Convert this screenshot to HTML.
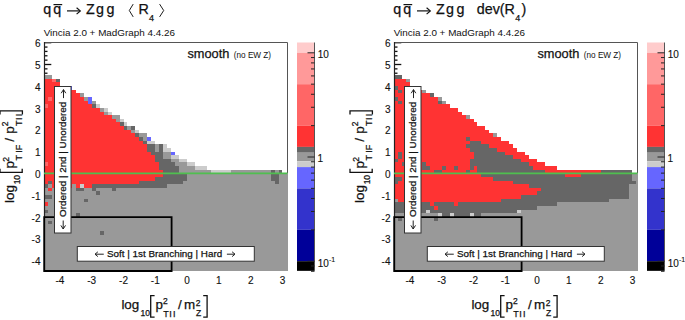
<!DOCTYPE html>
<html><head><meta charset="utf-8"><title>Vincia R4</title><style>
html,body{margin:0;padding:0;background:#fff;width:685px;height:320px;overflow:hidden}
svg{display:block}
text{font-family:"Liberation Sans",sans-serif;fill:#111;stroke:#111;stroke-width:0.25px}
.tl{font-size:10px;stroke-width:0.12px}
.sup{font-size:7px}
.tt{font-size:14.3px}
.sub{font-size:9px}
.st{font-size:9.9px;stroke-width:0}
.sm{font-size:12.8px}
.sm2{font-size:8.2px;stroke-width:0}
.lb{font-size:9.85px}
.at{font-size:13.4px}
.atsub{font-size:8.5px}
.atsub2{font-size:9px}
.br{font-size:19px;font-weight:normal}
</style></head><body>
<svg width="685" height="320" viewBox="0 0 685 320">
<style>.cells rect{shape-rendering:crispEdges}</style>
<rect x="0" y="0" width="685" height="320" fill="#fff"/>
<line x1="44.0" y1="42.70" x2="51.3" y2="42.70" stroke="#111" stroke-width="1.3"/>
<line x1="44.0" y1="47.06" x2="47.5" y2="47.06" stroke="#111" stroke-width="1.3"/>
<line x1="44.0" y1="51.42" x2="47.5" y2="51.42" stroke="#111" stroke-width="1.3"/>
<line x1="44.0" y1="55.78" x2="47.5" y2="55.78" stroke="#111" stroke-width="1.3"/>
<line x1="44.0" y1="60.14" x2="47.5" y2="60.14" stroke="#111" stroke-width="1.3"/>
<line x1="44.0" y1="64.50" x2="51.3" y2="64.50" stroke="#111" stroke-width="1.3"/>
<line x1="44.0" y1="68.86" x2="47.5" y2="68.86" stroke="#111" stroke-width="1.3"/>
<line x1="44.0" y1="73.22" x2="47.5" y2="73.22" stroke="#111" stroke-width="1.3"/>
<line x1="44.0" y1="77.58" x2="47.5" y2="77.58" stroke="#111" stroke-width="1.3"/>
<line x1="44.0" y1="81.94" x2="47.5" y2="81.94" stroke="#111" stroke-width="1.3"/>
<line x1="44.0" y1="86.30" x2="51.3" y2="86.30" stroke="#111" stroke-width="1.3"/>
<line x1="44.0" y1="90.66" x2="47.5" y2="90.66" stroke="#111" stroke-width="1.3"/>
<line x1="44.0" y1="95.02" x2="47.5" y2="95.02" stroke="#111" stroke-width="1.3"/>
<line x1="44.0" y1="99.38" x2="47.5" y2="99.38" stroke="#111" stroke-width="1.3"/>
<line x1="44.0" y1="103.74" x2="47.5" y2="103.74" stroke="#111" stroke-width="1.3"/>
<line x1="44.0" y1="108.10" x2="51.3" y2="108.10" stroke="#111" stroke-width="1.3"/>
<line x1="44.0" y1="112.46" x2="47.5" y2="112.46" stroke="#111" stroke-width="1.3"/>
<line x1="44.0" y1="116.82" x2="47.5" y2="116.82" stroke="#111" stroke-width="1.3"/>
<line x1="44.0" y1="121.18" x2="47.5" y2="121.18" stroke="#111" stroke-width="1.3"/>
<line x1="44.0" y1="125.54" x2="47.5" y2="125.54" stroke="#111" stroke-width="1.3"/>
<line x1="44.0" y1="129.90" x2="51.3" y2="129.90" stroke="#111" stroke-width="1.3"/>
<line x1="44.0" y1="134.26" x2="47.5" y2="134.26" stroke="#111" stroke-width="1.3"/>
<line x1="44.0" y1="138.62" x2="47.5" y2="138.62" stroke="#111" stroke-width="1.3"/>
<line x1="44.0" y1="142.98" x2="47.5" y2="142.98" stroke="#111" stroke-width="1.3"/>
<line x1="44.0" y1="147.34" x2="47.5" y2="147.34" stroke="#111" stroke-width="1.3"/>
<line x1="44.0" y1="151.70" x2="51.3" y2="151.70" stroke="#111" stroke-width="1.3"/>
<line x1="44.0" y1="156.06" x2="47.5" y2="156.06" stroke="#111" stroke-width="1.3"/>
<line x1="44.0" y1="160.42" x2="47.5" y2="160.42" stroke="#111" stroke-width="1.3"/>
<line x1="44.0" y1="164.78" x2="47.5" y2="164.78" stroke="#111" stroke-width="1.3"/>
<line x1="44.0" y1="169.14" x2="47.5" y2="169.14" stroke="#111" stroke-width="1.3"/>
<line x1="44.0" y1="173.50" x2="51.3" y2="173.50" stroke="#111" stroke-width="1.3"/>
<line x1="44.0" y1="177.86" x2="47.5" y2="177.86" stroke="#111" stroke-width="1.3"/>
<line x1="44.0" y1="182.22" x2="47.5" y2="182.22" stroke="#111" stroke-width="1.3"/>
<line x1="44.0" y1="186.58" x2="47.5" y2="186.58" stroke="#111" stroke-width="1.3"/>
<line x1="44.0" y1="190.94" x2="47.5" y2="190.94" stroke="#111" stroke-width="1.3"/>
<line x1="44.0" y1="195.30" x2="51.3" y2="195.30" stroke="#111" stroke-width="1.3"/>
<line x1="44.0" y1="199.66" x2="47.5" y2="199.66" stroke="#111" stroke-width="1.3"/>
<line x1="44.0" y1="204.02" x2="47.5" y2="204.02" stroke="#111" stroke-width="1.3"/>
<line x1="44.0" y1="208.38" x2="47.5" y2="208.38" stroke="#111" stroke-width="1.3"/>
<line x1="44.0" y1="212.74" x2="47.5" y2="212.74" stroke="#111" stroke-width="1.3"/>
<line x1="44.0" y1="217.10" x2="51.3" y2="217.10" stroke="#111" stroke-width="1.3"/>
<line x1="44.0" y1="221.46" x2="47.5" y2="221.46" stroke="#111" stroke-width="1.3"/>
<line x1="44.0" y1="225.82" x2="47.5" y2="225.82" stroke="#111" stroke-width="1.3"/>
<line x1="44.0" y1="230.18" x2="47.5" y2="230.18" stroke="#111" stroke-width="1.3"/>
<line x1="44.0" y1="234.54" x2="47.5" y2="234.54" stroke="#111" stroke-width="1.3"/>
<line x1="44.0" y1="238.90" x2="51.3" y2="238.90" stroke="#111" stroke-width="1.3"/>
<line x1="44.0" y1="243.26" x2="47.5" y2="243.26" stroke="#111" stroke-width="1.3"/>
<line x1="44.0" y1="247.62" x2="47.5" y2="247.62" stroke="#111" stroke-width="1.3"/>
<line x1="44.0" y1="251.98" x2="47.5" y2="251.98" stroke="#111" stroke-width="1.3"/>
<line x1="44.0" y1="256.34" x2="47.5" y2="256.34" stroke="#111" stroke-width="1.3"/>
<line x1="44.0" y1="260.70" x2="51.3" y2="260.70" stroke="#111" stroke-width="1.3"/>
<line x1="44.0" y1="265.06" x2="47.5" y2="265.06" stroke="#111" stroke-width="1.3"/>
<line x1="44.0" y1="269.42" x2="47.5" y2="269.42" stroke="#111" stroke-width="1.3"/>
<line x1="394.0" y1="42.70" x2="401.3" y2="42.70" stroke="#111" stroke-width="1.3"/>
<line x1="394.0" y1="47.06" x2="397.5" y2="47.06" stroke="#111" stroke-width="1.3"/>
<line x1="394.0" y1="51.42" x2="397.5" y2="51.42" stroke="#111" stroke-width="1.3"/>
<line x1="394.0" y1="55.78" x2="397.5" y2="55.78" stroke="#111" stroke-width="1.3"/>
<line x1="394.0" y1="60.14" x2="397.5" y2="60.14" stroke="#111" stroke-width="1.3"/>
<line x1="394.0" y1="64.50" x2="401.3" y2="64.50" stroke="#111" stroke-width="1.3"/>
<line x1="394.0" y1="68.86" x2="397.5" y2="68.86" stroke="#111" stroke-width="1.3"/>
<line x1="394.0" y1="73.22" x2="397.5" y2="73.22" stroke="#111" stroke-width="1.3"/>
<line x1="394.0" y1="77.58" x2="397.5" y2="77.58" stroke="#111" stroke-width="1.3"/>
<line x1="394.0" y1="81.94" x2="397.5" y2="81.94" stroke="#111" stroke-width="1.3"/>
<line x1="394.0" y1="86.30" x2="401.3" y2="86.30" stroke="#111" stroke-width="1.3"/>
<line x1="394.0" y1="90.66" x2="397.5" y2="90.66" stroke="#111" stroke-width="1.3"/>
<line x1="394.0" y1="95.02" x2="397.5" y2="95.02" stroke="#111" stroke-width="1.3"/>
<line x1="394.0" y1="99.38" x2="397.5" y2="99.38" stroke="#111" stroke-width="1.3"/>
<line x1="394.0" y1="103.74" x2="397.5" y2="103.74" stroke="#111" stroke-width="1.3"/>
<line x1="394.0" y1="108.10" x2="401.3" y2="108.10" stroke="#111" stroke-width="1.3"/>
<line x1="394.0" y1="112.46" x2="397.5" y2="112.46" stroke="#111" stroke-width="1.3"/>
<line x1="394.0" y1="116.82" x2="397.5" y2="116.82" stroke="#111" stroke-width="1.3"/>
<line x1="394.0" y1="121.18" x2="397.5" y2="121.18" stroke="#111" stroke-width="1.3"/>
<line x1="394.0" y1="125.54" x2="397.5" y2="125.54" stroke="#111" stroke-width="1.3"/>
<line x1="394.0" y1="129.90" x2="401.3" y2="129.90" stroke="#111" stroke-width="1.3"/>
<line x1="394.0" y1="134.26" x2="397.5" y2="134.26" stroke="#111" stroke-width="1.3"/>
<line x1="394.0" y1="138.62" x2="397.5" y2="138.62" stroke="#111" stroke-width="1.3"/>
<line x1="394.0" y1="142.98" x2="397.5" y2="142.98" stroke="#111" stroke-width="1.3"/>
<line x1="394.0" y1="147.34" x2="397.5" y2="147.34" stroke="#111" stroke-width="1.3"/>
<line x1="394.0" y1="151.70" x2="401.3" y2="151.70" stroke="#111" stroke-width="1.3"/>
<line x1="394.0" y1="156.06" x2="397.5" y2="156.06" stroke="#111" stroke-width="1.3"/>
<line x1="394.0" y1="160.42" x2="397.5" y2="160.42" stroke="#111" stroke-width="1.3"/>
<line x1="394.0" y1="164.78" x2="397.5" y2="164.78" stroke="#111" stroke-width="1.3"/>
<line x1="394.0" y1="169.14" x2="397.5" y2="169.14" stroke="#111" stroke-width="1.3"/>
<line x1="394.0" y1="173.50" x2="401.3" y2="173.50" stroke="#111" stroke-width="1.3"/>
<line x1="394.0" y1="177.86" x2="397.5" y2="177.86" stroke="#111" stroke-width="1.3"/>
<line x1="394.0" y1="182.22" x2="397.5" y2="182.22" stroke="#111" stroke-width="1.3"/>
<line x1="394.0" y1="186.58" x2="397.5" y2="186.58" stroke="#111" stroke-width="1.3"/>
<line x1="394.0" y1="190.94" x2="397.5" y2="190.94" stroke="#111" stroke-width="1.3"/>
<line x1="394.0" y1="195.30" x2="401.3" y2="195.30" stroke="#111" stroke-width="1.3"/>
<line x1="394.0" y1="199.66" x2="397.5" y2="199.66" stroke="#111" stroke-width="1.3"/>
<line x1="394.0" y1="204.02" x2="397.5" y2="204.02" stroke="#111" stroke-width="1.3"/>
<line x1="394.0" y1="208.38" x2="397.5" y2="208.38" stroke="#111" stroke-width="1.3"/>
<line x1="394.0" y1="212.74" x2="397.5" y2="212.74" stroke="#111" stroke-width="1.3"/>
<line x1="394.0" y1="217.10" x2="401.3" y2="217.10" stroke="#111" stroke-width="1.3"/>
<line x1="394.0" y1="221.46" x2="397.5" y2="221.46" stroke="#111" stroke-width="1.3"/>
<line x1="394.0" y1="225.82" x2="397.5" y2="225.82" stroke="#111" stroke-width="1.3"/>
<line x1="394.0" y1="230.18" x2="397.5" y2="230.18" stroke="#111" stroke-width="1.3"/>
<line x1="394.0" y1="234.54" x2="397.5" y2="234.54" stroke="#111" stroke-width="1.3"/>
<line x1="394.0" y1="238.90" x2="401.3" y2="238.90" stroke="#111" stroke-width="1.3"/>
<line x1="394.0" y1="243.26" x2="397.5" y2="243.26" stroke="#111" stroke-width="1.3"/>
<line x1="394.0" y1="247.62" x2="397.5" y2="247.62" stroke="#111" stroke-width="1.3"/>
<line x1="394.0" y1="251.98" x2="397.5" y2="251.98" stroke="#111" stroke-width="1.3"/>
<line x1="394.0" y1="256.34" x2="397.5" y2="256.34" stroke="#111" stroke-width="1.3"/>
<line x1="394.0" y1="260.70" x2="401.3" y2="260.70" stroke="#111" stroke-width="1.3"/>
<line x1="394.0" y1="265.06" x2="397.5" y2="265.06" stroke="#111" stroke-width="1.3"/>
<line x1="394.0" y1="269.42" x2="397.5" y2="269.42" stroke="#111" stroke-width="1.3"/>
<path d="M44.5,42.5 L287.5,42.5 L287.5,271" fill="none" stroke="#555" stroke-width="1"/>
<path d="M394.5,42.5 L637.5,42.5 L637.5,271" fill="none" stroke="#555" stroke-width="1"/>
<g class="cells"><rect x="44" y="75" width="8" height="4" fill="#999999"/>
<rect x="44" y="79" width="8" height="3" fill="#ff3333"/>
<rect x="52" y="79" width="4" height="3" fill="#ff6666"/>
<rect x="56" y="79" width="4" height="3" fill="#666666"/>
<rect x="44" y="82" width="16" height="4" fill="#ff3333"/>
<rect x="44" y="86" width="24" height="4" fill="#ff3333"/>
<rect x="68" y="86" width="4" height="4" fill="#6666ff"/>
<rect x="44" y="90" width="32" height="3" fill="#ff3333"/>
<rect x="44" y="93" width="36" height="4" fill="#ff3333"/>
<rect x="80" y="93" width="4" height="4" fill="#999999"/>
<rect x="44" y="97" width="4" height="4" fill="#ff3333"/>
<rect x="48" y="97" width="4" height="4" fill="#ff6666"/>
<rect x="52" y="97" width="32" height="4" fill="#ff3333"/>
<rect x="84" y="97" width="4" height="4" fill="#999999"/>
<rect x="88" y="97" width="4" height="4" fill="#6666ff"/>
<rect x="44" y="101" width="44" height="3" fill="#ff3333"/>
<rect x="88" y="101" width="4" height="3" fill="#6666ff"/>
<rect x="92" y="101" width="4" height="3" fill="#999999"/>
<rect x="44" y="104" width="4" height="4" fill="#ff6666"/>
<rect x="48" y="104" width="44" height="4" fill="#ff3333"/>
<rect x="92" y="104" width="4" height="4" fill="#666666"/>
<rect x="96" y="104" width="4" height="4" fill="#cccccc"/>
<rect x="44" y="108" width="56" height="4" fill="#ff3333"/>
<rect x="100" y="108" width="4" height="4" fill="#999999"/>
<rect x="104" y="108" width="4" height="4" fill="#cccccc"/>
<rect x="44" y="112" width="60" height="3" fill="#ff3333"/>
<rect x="104" y="112" width="4" height="3" fill="#999999"/>
<rect x="108" y="112" width="4" height="3" fill="#cccccc"/>
<rect x="44" y="115" width="68" height="4" fill="#ff3333"/>
<rect x="112" y="115" width="8" height="4" fill="#999999"/>
<rect x="44" y="119" width="72" height="3" fill="#ff3333"/>
<rect x="116" y="119" width="4" height="3" fill="#999999"/>
<rect x="120" y="119" width="4" height="3" fill="#cccccc"/>
<rect x="44" y="122" width="76" height="4" fill="#ff3333"/>
<rect x="120" y="122" width="4" height="4" fill="#666666"/>
<rect x="124" y="122" width="3" height="4" fill="#cccccc"/>
<rect x="44" y="126" width="80" height="4" fill="#ff3333"/>
<rect x="124" y="126" width="3" height="4" fill="#666666"/>
<rect x="127" y="126" width="4" height="4" fill="#999999"/>
<rect x="131" y="126" width="4" height="4" fill="#666666"/>
<rect x="44" y="130" width="87" height="3" fill="#ff3333"/>
<rect x="131" y="130" width="4" height="3" fill="#999999"/>
<rect x="135" y="130" width="4" height="3" fill="#cccccc"/>
<rect x="44" y="133" width="91" height="4" fill="#ff3333"/>
<rect x="135" y="133" width="4" height="4" fill="#666666"/>
<rect x="139" y="133" width="8" height="4" fill="#999999"/>
<rect x="44" y="137" width="95" height="4" fill="#ff3333"/>
<rect x="139" y="137" width="4" height="4" fill="#666666"/>
<rect x="143" y="137" width="4" height="4" fill="#999999"/>
<rect x="147" y="137" width="4" height="4" fill="#6666ff"/>
<rect x="44" y="141" width="99" height="3" fill="#ff3333"/>
<rect x="143" y="141" width="4" height="3" fill="#666666"/>
<rect x="147" y="141" width="8" height="3" fill="#cccccc"/>
<rect x="44" y="144" width="103" height="4" fill="#ff3333"/>
<rect x="147" y="144" width="8" height="4" fill="#666666"/>
<rect x="155" y="144" width="4" height="4" fill="#999999"/>
<rect x="159" y="144" width="4" height="4" fill="#666666"/>
<rect x="163" y="144" width="4" height="4" fill="#cccccc"/>
<rect x="44" y="148" width="103" height="4" fill="#ff3333"/>
<rect x="147" y="148" width="8" height="4" fill="#666666"/>
<rect x="155" y="148" width="4" height="4" fill="#999999"/>
<rect x="159" y="148" width="4" height="4" fill="#666666"/>
<rect x="163" y="148" width="8" height="4" fill="#cccccc"/>
<rect x="44" y="152" width="107" height="3" fill="#ff3333"/>
<rect x="151" y="152" width="12" height="3" fill="#666666"/>
<rect x="163" y="152" width="8" height="3" fill="#999999"/>
<rect x="171" y="152" width="4" height="3" fill="#6666ff"/>
<rect x="44" y="155" width="111" height="4" fill="#ff3333"/>
<rect x="155" y="155" width="8" height="4" fill="#666666"/>
<rect x="163" y="155" width="8" height="4" fill="#999999"/>
<rect x="171" y="155" width="8" height="4" fill="#cccccc"/>
<rect x="44" y="159" width="111" height="3" fill="#ff3333"/>
<rect x="155" y="159" width="16" height="3" fill="#666666"/>
<rect x="171" y="159" width="8" height="3" fill="#999999"/>
<rect x="179" y="159" width="8" height="3" fill="#cccccc"/>
<rect x="44" y="162" width="4" height="4" fill="#ff6666"/>
<rect x="48" y="162" width="111" height="4" fill="#ff3333"/>
<rect x="159" y="162" width="16" height="4" fill="#666666"/>
<rect x="175" y="162" width="12" height="4" fill="#999999"/>
<rect x="187" y="162" width="8" height="4" fill="#cccccc"/>
<rect x="44" y="166" width="115" height="4" fill="#ff3333"/>
<rect x="159" y="166" width="20" height="4" fill="#666666"/>
<rect x="179" y="166" width="16" height="4" fill="#999999"/>
<rect x="195" y="166" width="12" height="4" fill="#cccccc"/>
<rect x="44" y="170" width="119" height="3" fill="#ff3333"/>
<rect x="163" y="170" width="16" height="3" fill="#666666"/>
<rect x="179" y="170" width="32" height="3" fill="#999999"/>
<rect x="211" y="170" width="20" height="3" fill="#cccccc"/>
<rect x="231" y="170" width="40" height="3" fill="#999999"/>
<rect x="271" y="170" width="4" height="3" fill="#666666"/>
<rect x="275" y="170" width="4" height="3" fill="#999999"/>
<rect x="279" y="170" width="3" height="3" fill="#666666"/>
<rect x="44" y="173" width="119" height="4" fill="#ff3333"/>
<rect x="163" y="173" width="24" height="4" fill="#666666"/>
<rect x="187" y="173" width="84" height="4" fill="#999999"/>
<rect x="271" y="173" width="8" height="4" fill="#666666"/>
<rect x="279" y="173" width="9" height="4" fill="#999999"/>
<rect x="44" y="177" width="111" height="4" fill="#ff3333"/>
<rect x="155" y="177" width="32" height="4" fill="#666666"/>
<rect x="187" y="177" width="84" height="4" fill="#999999"/>
<rect x="271" y="177" width="8" height="4" fill="#666666"/>
<rect x="279" y="177" width="9" height="4" fill="#999999"/>
<rect x="44" y="181" width="4" height="3" fill="#ff3333"/>
<rect x="48" y="181" width="4" height="3" fill="#666666"/>
<rect x="52" y="181" width="87" height="3" fill="#ff3333"/>
<rect x="139" y="181" width="44" height="3" fill="#666666"/>
<rect x="183" y="181" width="92" height="3" fill="#999999"/>
<rect x="275" y="181" width="4" height="3" fill="#666666"/>
<rect x="279" y="181" width="9" height="3" fill="#999999"/>
<rect x="44" y="184" width="4" height="4" fill="#666666"/>
<rect x="48" y="184" width="4" height="4" fill="#999999"/>
<rect x="52" y="184" width="20" height="4" fill="#ff3333"/>
<rect x="72" y="184" width="4" height="4" fill="#999999"/>
<rect x="76" y="184" width="4" height="4" fill="#ff3333"/>
<rect x="80" y="184" width="4" height="4" fill="#cccccc"/>
<rect x="84" y="184" width="8" height="4" fill="#ff3333"/>
<rect x="92" y="184" width="75" height="4" fill="#666666"/>
<rect x="167" y="184" width="121" height="4" fill="#999999"/>
<rect x="44" y="188" width="4" height="3" fill="#999999"/>
<rect x="48" y="188" width="4" height="3" fill="#ff3333"/>
<rect x="52" y="188" width="24" height="3" fill="#999999"/>
<rect x="76" y="188" width="8" height="3" fill="#666666"/>
<rect x="84" y="188" width="8" height="3" fill="#999999"/>
<rect x="92" y="188" width="4" height="3" fill="#666666"/>
<rect x="96" y="188" width="16" height="3" fill="#999999"/>
<rect x="112" y="188" width="4" height="3" fill="#666666"/>
<rect x="116" y="188" width="172" height="3" fill="#999999"/>
<rect x="44" y="191" width="52" height="4" fill="#999999"/>
<rect x="96" y="191" width="4" height="4" fill="#666666"/>
<rect x="100" y="191" width="188" height="4" fill="#999999"/>
<rect x="44" y="195" width="8" height="4" fill="#666666"/>
<rect x="52" y="195" width="236" height="4" fill="#999999"/>
<rect x="44" y="199" width="40" height="3" fill="#999999"/>
<rect x="84" y="199" width="4" height="3" fill="#666666"/>
<rect x="88" y="199" width="200" height="3" fill="#999999"/>
<rect x="44" y="202" width="4" height="4" fill="#ff3333"/>
<rect x="48" y="202" width="240" height="4" fill="#999999"/>
<rect x="44" y="206" width="244" height="4" fill="#999999"/>
<rect x="44" y="210" width="4" height="3" fill="#666666"/>
<rect x="48" y="210" width="240" height="3" fill="#999999"/>
<rect x="44" y="213" width="32" height="4" fill="#999999"/>
<rect x="76" y="213" width="4" height="4" fill="#666666"/>
<rect x="80" y="213" width="208" height="4" fill="#999999"/>
<rect x="44" y="217" width="244" height="4" fill="#999999"/>
<rect x="44" y="221" width="4" height="3" fill="#999999"/>
<rect x="48" y="221" width="4" height="3" fill="#666666"/>
<rect x="52" y="221" width="236" height="3" fill="#999999"/>
<rect x="44" y="224" width="244" height="4" fill="#999999"/>
<rect x="44" y="228" width="244" height="3" fill="#999999"/>
<rect x="44" y="231" width="56" height="4" fill="#999999"/>
<rect x="100" y="231" width="4" height="4" fill="#666666"/>
<rect x="104" y="231" width="184" height="4" fill="#999999"/>
<rect x="44" y="235" width="244" height="4" fill="#999999"/>
<rect x="44" y="239" width="244" height="3" fill="#999999"/>
<rect x="44" y="242" width="244" height="4" fill="#999999"/>
<rect x="44" y="246" width="244" height="4" fill="#999999"/>
<rect x="44" y="250" width="244" height="3" fill="#999999"/>
<rect x="44" y="253" width="244" height="4" fill="#999999"/>
<rect x="44" y="257" width="244" height="3" fill="#999999"/>
<rect x="44" y="260" width="244" height="4" fill="#999999"/>
<rect x="44" y="264" width="244" height="4" fill="#999999"/>
<rect x="44" y="268" width="244" height="3" fill="#999999"/></g>
<g class="cells"><rect x="394" y="75" width="8" height="4" fill="#666666"/>
<rect x="394" y="79" width="12" height="3" fill="#ff3333"/>
<rect x="406" y="79" width="4" height="3" fill="#999999"/>
<rect x="394" y="82" width="16" height="4" fill="#ff3333"/>
<rect x="394" y="86" width="4" height="4" fill="#666666"/>
<rect x="398" y="86" width="20" height="4" fill="#ff3333"/>
<rect x="394" y="90" width="4" height="3" fill="#ff3333"/>
<rect x="398" y="90" width="4" height="3" fill="#666666"/>
<rect x="402" y="90" width="20" height="3" fill="#ff3333"/>
<rect x="422" y="90" width="4" height="3" fill="#999999"/>
<rect x="394" y="93" width="36" height="4" fill="#ff3333"/>
<rect x="430" y="93" width="4" height="4" fill="#666666"/>
<rect x="394" y="97" width="4" height="4" fill="#666666"/>
<rect x="398" y="97" width="40" height="4" fill="#ff3333"/>
<rect x="438" y="97" width="4" height="4" fill="#999999"/>
<rect x="394" y="101" width="4" height="3" fill="#ff3333"/>
<rect x="398" y="101" width="4" height="3" fill="#666666"/>
<rect x="402" y="101" width="36" height="3" fill="#ff3333"/>
<rect x="438" y="101" width="4" height="3" fill="#666666"/>
<rect x="442" y="101" width="4" height="3" fill="#999999"/>
<rect x="394" y="104" width="56" height="4" fill="#ff3333"/>
<rect x="394" y="108" width="64" height="4" fill="#ff3333"/>
<rect x="394" y="112" width="68" height="3" fill="#ff3333"/>
<rect x="394" y="115" width="72" height="4" fill="#ff3333"/>
<rect x="466" y="115" width="4" height="4" fill="#999999"/>
<rect x="394" y="119" width="80" height="3" fill="#ff3333"/>
<rect x="394" y="122" width="83" height="4" fill="#ff3333"/>
<rect x="394" y="126" width="91" height="4" fill="#ff3333"/>
<rect x="394" y="130" width="95" height="3" fill="#ff3333"/>
<rect x="394" y="133" width="99" height="4" fill="#ff3333"/>
<rect x="493" y="133" width="4" height="4" fill="#999999"/>
<rect x="394" y="137" width="72" height="4" fill="#ff3333"/>
<rect x="466" y="137" width="4" height="4" fill="#666666"/>
<rect x="470" y="137" width="31" height="4" fill="#ff3333"/>
<rect x="394" y="141" width="76" height="3" fill="#ff3333"/>
<rect x="470" y="141" width="11" height="3" fill="#666666"/>
<rect x="481" y="141" width="28" height="3" fill="#ff3333"/>
<rect x="394" y="144" width="72" height="4" fill="#ff3333"/>
<rect x="466" y="144" width="23" height="4" fill="#666666"/>
<rect x="489" y="144" width="24" height="4" fill="#ff3333"/>
<rect x="394" y="148" width="76" height="4" fill="#ff3333"/>
<rect x="470" y="148" width="27" height="4" fill="#666666"/>
<rect x="497" y="148" width="20" height="4" fill="#ff3333"/>
<rect x="394" y="152" width="4" height="3" fill="#ff3333"/>
<rect x="398" y="152" width="4" height="3" fill="#666666"/>
<rect x="402" y="152" width="72" height="3" fill="#ff3333"/>
<rect x="474" y="152" width="31" height="3" fill="#666666"/>
<rect x="505" y="152" width="20" height="3" fill="#ff3333"/>
<rect x="394" y="155" width="4" height="4" fill="#ff3333"/>
<rect x="398" y="155" width="4" height="4" fill="#666666"/>
<rect x="402" y="155" width="72" height="4" fill="#ff3333"/>
<rect x="474" y="155" width="39" height="4" fill="#666666"/>
<rect x="513" y="155" width="16" height="4" fill="#ff3333"/>
<rect x="394" y="159" width="4" height="3" fill="#666666"/>
<rect x="398" y="159" width="72" height="3" fill="#ff3333"/>
<rect x="470" y="159" width="51" height="3" fill="#666666"/>
<rect x="521" y="159" width="16" height="3" fill="#ff3333"/>
<rect x="394" y="162" width="8" height="4" fill="#ff3333"/>
<rect x="402" y="162" width="4" height="4" fill="#666666"/>
<rect x="406" y="162" width="16" height="4" fill="#ff3333"/>
<rect x="422" y="162" width="4" height="4" fill="#666666"/>
<rect x="426" y="162" width="44" height="4" fill="#ff3333"/>
<rect x="470" y="162" width="59" height="4" fill="#666666"/>
<rect x="529" y="162" width="16" height="4" fill="#ff3333"/>
<rect x="394" y="166" width="28" height="4" fill="#ff3333"/>
<rect x="422" y="166" width="8" height="4" fill="#666666"/>
<rect x="430" y="166" width="12" height="4" fill="#ff3333"/>
<rect x="442" y="166" width="4" height="4" fill="#666666"/>
<rect x="446" y="166" width="8" height="4" fill="#ff3333"/>
<rect x="454" y="166" width="4" height="4" fill="#666666"/>
<rect x="458" y="166" width="12" height="4" fill="#ff3333"/>
<rect x="470" y="166" width="4" height="4" fill="#666666"/>
<rect x="474" y="166" width="3" height="4" fill="#ff3333"/>
<rect x="477" y="166" width="56" height="4" fill="#666666"/>
<rect x="533" y="166" width="24" height="4" fill="#ff3333"/>
<rect x="394" y="170" width="40" height="3" fill="#ff3333"/>
<rect x="434" y="170" width="8" height="3" fill="#666666"/>
<rect x="442" y="170" width="24" height="3" fill="#ff3333"/>
<rect x="466" y="170" width="4" height="3" fill="#666666"/>
<rect x="470" y="170" width="7" height="3" fill="#ff3333"/>
<rect x="477" y="170" width="68" height="3" fill="#666666"/>
<rect x="545" y="170" width="56" height="3" fill="#ff3333"/>
<rect x="601" y="170" width="31" height="3" fill="#666666"/>
<rect x="394" y="173" width="87" height="4" fill="#ff3333"/>
<rect x="481" y="173" width="84" height="4" fill="#666666"/>
<rect x="565" y="173" width="16" height="4" fill="#ff3333"/>
<rect x="581" y="173" width="51" height="4" fill="#666666"/>
<rect x="632" y="173" width="6" height="4" fill="#999999"/>
<rect x="394" y="177" width="8" height="4" fill="#666666"/>
<rect x="402" y="177" width="91" height="4" fill="#ff3333"/>
<rect x="493" y="177" width="139" height="4" fill="#666666"/>
<rect x="632" y="177" width="6" height="4" fill="#999999"/>
<rect x="394" y="181" width="4" height="3" fill="#666666"/>
<rect x="398" y="181" width="115" height="3" fill="#ff3333"/>
<rect x="513" y="181" width="123" height="3" fill="#666666"/>
<rect x="636" y="181" width="2" height="3" fill="#999999"/>
<rect x="394" y="184" width="135" height="4" fill="#ff3333"/>
<rect x="529" y="184" width="100" height="4" fill="#666666"/>
<rect x="629" y="184" width="9" height="4" fill="#999999"/>
<rect x="394" y="188" width="147" height="3" fill="#ff3333"/>
<rect x="541" y="188" width="88" height="3" fill="#666666"/>
<rect x="629" y="188" width="9" height="3" fill="#999999"/>
<rect x="394" y="191" width="143" height="4" fill="#ff3333"/>
<rect x="537" y="191" width="92" height="4" fill="#666666"/>
<rect x="629" y="191" width="9" height="4" fill="#999999"/>
<rect x="394" y="195" width="127" height="4" fill="#ff3333"/>
<rect x="521" y="195" width="108" height="4" fill="#666666"/>
<rect x="629" y="195" width="9" height="4" fill="#999999"/>
<rect x="394" y="199" width="4" height="3" fill="#999999"/>
<rect x="398" y="199" width="103" height="3" fill="#ff3333"/>
<rect x="501" y="199" width="108" height="3" fill="#666666"/>
<rect x="609" y="199" width="29" height="3" fill="#999999"/>
<rect x="394" y="202" width="36" height="4" fill="#666666"/>
<rect x="430" y="202" width="4" height="4" fill="#ff3333"/>
<rect x="434" y="202" width="20" height="4" fill="#666666"/>
<rect x="454" y="202" width="4" height="4" fill="#ff3333"/>
<rect x="458" y="202" width="99" height="4" fill="#666666"/>
<rect x="557" y="202" width="81" height="4" fill="#999999"/>
<rect x="394" y="206" width="40" height="4" fill="#666666"/>
<rect x="434" y="206" width="4" height="4" fill="#ff3333"/>
<rect x="438" y="206" width="99" height="4" fill="#666666"/>
<rect x="537" y="206" width="101" height="4" fill="#999999"/>
<rect x="394" y="210" width="32" height="3" fill="#666666"/>
<rect x="426" y="210" width="4" height="3" fill="#cccccc"/>
<rect x="430" y="210" width="87" height="3" fill="#666666"/>
<rect x="517" y="210" width="4" height="3" fill="#cccccc"/>
<rect x="521" y="210" width="117" height="3" fill="#999999"/>
<rect x="394" y="213" width="44" height="4" fill="#999999"/>
<rect x="438" y="213" width="4" height="4" fill="#cccccc"/>
<rect x="442" y="213" width="8" height="4" fill="#666666"/>
<rect x="450" y="213" width="4" height="4" fill="#cccccc"/>
<rect x="454" y="213" width="16" height="4" fill="#666666"/>
<rect x="470" y="213" width="4" height="4" fill="#cccccc"/>
<rect x="474" y="213" width="7" height="4" fill="#666666"/>
<rect x="481" y="213" width="157" height="4" fill="#999999"/>
<rect x="394" y="217" width="4" height="4" fill="#999999"/>
<rect x="398" y="217" width="4" height="4" fill="#666666"/>
<rect x="402" y="217" width="32" height="4" fill="#999999"/>
<rect x="434" y="217" width="4" height="4" fill="#666666"/>
<rect x="438" y="217" width="200" height="4" fill="#999999"/>
<rect x="394" y="221" width="244" height="3" fill="#999999"/>
<rect x="394" y="224" width="244" height="4" fill="#999999"/>
<rect x="394" y="228" width="244" height="3" fill="#999999"/>
<rect x="394" y="231" width="244" height="4" fill="#999999"/>
<rect x="394" y="235" width="244" height="4" fill="#999999"/>
<rect x="394" y="239" width="244" height="3" fill="#999999"/>
<rect x="394" y="242" width="244" height="4" fill="#999999"/>
<rect x="394" y="246" width="244" height="4" fill="#999999"/>
<rect x="394" y="250" width="244" height="3" fill="#999999"/>
<rect x="394" y="253" width="244" height="4" fill="#999999"/>
<rect x="394" y="257" width="244" height="3" fill="#999999"/>
<rect x="394" y="260" width="244" height="4" fill="#999999"/>
<rect x="394" y="264" width="244" height="4" fill="#999999"/>
<rect x="394" y="268" width="244" height="3" fill="#999999"/></g>
<line x1="44.5" y1="42" x2="44.5" y2="271" stroke="#222" stroke-width="1.2"/>
<line x1="44.0" y1="173.30" x2="287.5" y2="173.30" stroke="#4fbf4f" stroke-width="1.8"/>
<path d="M44.20,271.00 L44.20,217.20 L171.60,217.20 L171.60,271.00 Z" fill="none" stroke="#000" stroke-width="1.8"/>
<rect x="54.5" y="86.5" width="16.5" height="146.5" fill="#fff" stroke="#333" stroke-width="1"/>
<text transform="translate(65.8,216.97) rotate(-90)" class="lb">Ordered | 2nd | Unordered</text>
<line x1="63.50" y1="89.60" x2="63.50" y2="98.10" stroke="#222" stroke-width="1"/><path d="M61.20,93.20 L63.50,89.60 L65.80,93.20" fill="none" stroke="#222" stroke-width="1"/>
<line x1="63.20" y1="220.50" x2="63.20" y2="229.00" stroke="#222" stroke-width="1"/><path d="M60.90,225.40 L63.20,229.00 L65.50,225.40" fill="none" stroke="#222" stroke-width="1"/>
<rect x="77.3" y="246.5" width="177" height="14.7" fill="#fff" stroke="#333" stroke-width="1"/>
<text x="107.05" y="256.8" class="lb">Soft | 1st Branching | Hard</text>
<line x1="95.00" y1="254.20" x2="103.75" y2="254.20" stroke="#222" stroke-width="1"/><path d="M97.90,251.80 L95.00,254.20 L97.90,256.60" fill="none" stroke="#222" stroke-width="1"/>
<line x1="226.90" y1="254.20" x2="235.00" y2="254.20" stroke="#222" stroke-width="1"/><path d="M232.10,251.80 L235.00,254.20 L232.10,256.60" fill="none" stroke="#222" stroke-width="1"/>
<rect x="297" y="42.5" width="17" height="10.30" fill="#ffcccc"/>
<rect x="297" y="52.8" width="17" height="31.40" fill="#ff9999"/>
<rect x="297" y="84.2" width="17" height="41.40" fill="#ff6666"/>
<rect x="297" y="125.6" width="17" height="21.30" fill="#ff3333"/>
<rect x="297" y="146.9" width="17" height="5.80" fill="#666666"/>
<rect x="297" y="152.7" width="17" height="8.60" fill="#999999"/>
<rect x="297" y="161.3" width="17" height="5.80" fill="#cccccc"/>
<rect x="297" y="167.1" width="17" height="21.30" fill="#6666ff"/>
<rect x="297" y="188.4" width="17" height="41.40" fill="#3333cc"/>
<rect x="297" y="229.8" width="17" height="31.40" fill="#000099"/>
<rect x="297" y="261.2" width="17" height="9.65" fill="#000000"/>
<line x1="314.5" y1="42.5" x2="314.5" y2="270.85" stroke="#555" stroke-width="1"/>
<line x1="311.00" y1="271.30" x2="314.5" y2="271.30" stroke="#222" stroke-width="1"/>
<line x1="311.00" y1="265.97" x2="314.5" y2="265.97" stroke="#222" stroke-width="1"/>
<line x1="307.50" y1="261.20" x2="314.5" y2="261.20" stroke="#222" stroke-width="1"/>
<line x1="311.00" y1="229.83" x2="314.5" y2="229.83" stroke="#222" stroke-width="1"/>
<line x1="311.00" y1="211.48" x2="314.5" y2="211.48" stroke="#222" stroke-width="1"/>
<line x1="311.00" y1="198.47" x2="314.5" y2="198.47" stroke="#222" stroke-width="1"/>
<line x1="311.00" y1="188.37" x2="314.5" y2="188.37" stroke="#222" stroke-width="1"/>
<line x1="311.00" y1="180.12" x2="314.5" y2="180.12" stroke="#222" stroke-width="1"/>
<line x1="311.00" y1="173.14" x2="314.5" y2="173.14" stroke="#222" stroke-width="1"/>
<line x1="311.00" y1="167.10" x2="314.5" y2="167.10" stroke="#222" stroke-width="1"/>
<line x1="311.00" y1="161.77" x2="314.5" y2="161.77" stroke="#222" stroke-width="1"/>
<line x1="307.50" y1="157.00" x2="314.5" y2="157.00" stroke="#222" stroke-width="1"/>
<line x1="311.00" y1="125.63" x2="314.5" y2="125.63" stroke="#222" stroke-width="1"/>
<line x1="311.00" y1="107.28" x2="314.5" y2="107.28" stroke="#222" stroke-width="1"/>
<line x1="311.00" y1="94.27" x2="314.5" y2="94.27" stroke="#222" stroke-width="1"/>
<line x1="311.00" y1="84.17" x2="314.5" y2="84.17" stroke="#222" stroke-width="1"/>
<line x1="311.00" y1="75.92" x2="314.5" y2="75.92" stroke="#222" stroke-width="1"/>
<line x1="311.00" y1="68.94" x2="314.5" y2="68.94" stroke="#222" stroke-width="1"/>
<line x1="311.00" y1="62.90" x2="314.5" y2="62.90" stroke="#222" stroke-width="1"/>
<line x1="311.00" y1="57.57" x2="314.5" y2="57.57" stroke="#222" stroke-width="1"/>
<line x1="307.50" y1="52.80" x2="314.5" y2="52.80" stroke="#222" stroke-width="1"/>
<text x="317.8" y="58.2" class="tl">10</text>
<text x="317.4" y="162.3" class="tl">1</text>
<text x="317.8" y="266.9" class="tl">10<tspan class="sup" dy="-4.5">-1</tspan></text>
<text x="40.5" y="47.10" text-anchor="end" class="tl">6</text>
<text x="40.5" y="68.90" text-anchor="end" class="tl">5</text>
<text x="40.5" y="90.70" text-anchor="end" class="tl">4</text>
<text x="40.5" y="112.50" text-anchor="end" class="tl">3</text>
<text x="40.5" y="134.30" text-anchor="end" class="tl">2</text>
<text x="40.5" y="156.10" text-anchor="end" class="tl">1</text>
<text x="40.5" y="177.90" text-anchor="end" class="tl">0</text>
<text x="40.5" y="199.70" text-anchor="end" class="tl">-1</text>
<text x="40.5" y="221.50" text-anchor="end" class="tl">-2</text>
<text x="40.5" y="243.30" text-anchor="end" class="tl">-3</text>
<text x="40.5" y="265.10" text-anchor="end" class="tl">-4</text>
<text x="59.90" y="283.6" text-anchor="middle" class="tl">-4</text>
<text x="91.70" y="283.6" text-anchor="middle" class="tl">-3</text>
<text x="123.50" y="283.6" text-anchor="middle" class="tl">-2</text>
<text x="155.30" y="283.6" text-anchor="middle" class="tl">-1</text>
<text x="187.10" y="283.6" text-anchor="middle" class="tl">0</text>
<text x="218.90" y="283.6" text-anchor="middle" class="tl">1</text>
<text x="250.70" y="283.6" text-anchor="middle" class="tl">2</text>
<text x="282.50" y="283.6" text-anchor="middle" class="tl">3</text>
<text x="121.40" y="309.4" class="at">log</text>
<text x="140.45" y="315.7" class="atsub">10</text>
<path d="M154.60,295.60 L150.70,295.60 L150.70,317.20 L154.60,317.20" fill="none" stroke="#111" stroke-width="1.3"/>
<text x="155.44" y="309.4" class="at">p</text>
<text x="163.07" y="304.4" class="atsub">2</text>
<text x="163.20" y="316.59999999999997" class="atsub2">T</text>
<text x="169.17" y="316.59999999999997" class="atsub2" letter-spacing="1.3">II</text>
<text x="178.10" y="309.4" class="at">/</text>
<text x="184.11" y="309.4" class="at">m</text>
<text x="195.87" y="306.2" class="atsub">2</text>
<text x="196.03" y="315.59999999999997" class="atsub">Z</text>
<path d="M203.20,295.60 L207.10,295.60 L207.10,317.20 L203.20,317.20" fill="none" stroke="#111" stroke-width="1.3"/>
<g transform="translate(13.8,202) rotate(-90)"><text x="-0.9" y="0" class="at">log</text><text x="17.65" y="6.3" class="atsub">10</text><path d="M33.20,-13.80 L29.60,-13.80 L29.60,8.40 L33.20,8.40" fill="none" stroke="#111" stroke-width="1.3"/><text x="33.64" y="0" class="at">p</text><text x="40.17" y="-4.8" class="atsub">2</text><text x="41.60" y="7.8" class="atsub2">T</text><text x="49.27" y="7.8" class="atsub2">IF</text><text x="60.20" y="0" class="at">/</text><text x="68.34" y="0" class="at">p</text><text x="75.77" y="-5.4" class="atsub">2</text><text x="76.00" y="7.8" class="atsub2">T</text><text x="81.97" y="7.8" class="atsub2" letter-spacing="1.3">II</text><path d="M87.60,-13.80 L91.20,-13.80 L91.20,8.60 L87.60,8.60" fill="none" stroke="#111" stroke-width="1.3"/></g>
<line x1="394.5" y1="42" x2="394.5" y2="271" stroke="#222" stroke-width="1.2"/>
<line x1="394.0" y1="173.30" x2="637.5" y2="173.30" stroke="#4fbf4f" stroke-width="1.8"/>
<path d="M394.20,271.00 L394.20,217.20 L521.60,217.20 L521.60,271.00 Z" fill="none" stroke="#000" stroke-width="1.8"/>
<rect x="404.5" y="86.5" width="16.5" height="146.5" fill="#fff" stroke="#333" stroke-width="1"/>
<text transform="translate(415.8,216.97) rotate(-90)" class="lb">Ordered | 2nd | Unordered</text>
<line x1="413.50" y1="89.60" x2="413.50" y2="98.10" stroke="#222" stroke-width="1"/><path d="M411.20,93.20 L413.50,89.60 L415.80,93.20" fill="none" stroke="#222" stroke-width="1"/>
<line x1="413.20" y1="220.50" x2="413.20" y2="229.00" stroke="#222" stroke-width="1"/><path d="M410.90,225.40 L413.20,229.00 L415.50,225.40" fill="none" stroke="#222" stroke-width="1"/>
<rect x="427.3" y="246.5" width="177" height="14.7" fill="#fff" stroke="#333" stroke-width="1"/>
<text x="457.05" y="256.8" class="lb">Soft | 1st Branching | Hard</text>
<line x1="445.00" y1="254.20" x2="453.75" y2="254.20" stroke="#222" stroke-width="1"/><path d="M447.90,251.80 L445.00,254.20 L447.90,256.60" fill="none" stroke="#222" stroke-width="1"/>
<line x1="576.90" y1="254.20" x2="585.00" y2="254.20" stroke="#222" stroke-width="1"/><path d="M582.10,251.80 L585.00,254.20 L582.10,256.60" fill="none" stroke="#222" stroke-width="1"/>
<rect x="647" y="42.5" width="17" height="10.30" fill="#ffcccc"/>
<rect x="647" y="52.8" width="17" height="31.40" fill="#ff9999"/>
<rect x="647" y="84.2" width="17" height="41.40" fill="#ff6666"/>
<rect x="647" y="125.6" width="17" height="21.30" fill="#ff3333"/>
<rect x="647" y="146.9" width="17" height="5.80" fill="#666666"/>
<rect x="647" y="152.7" width="17" height="8.60" fill="#999999"/>
<rect x="647" y="161.3" width="17" height="5.80" fill="#cccccc"/>
<rect x="647" y="167.1" width="17" height="21.30" fill="#6666ff"/>
<rect x="647" y="188.4" width="17" height="41.40" fill="#3333cc"/>
<rect x="647" y="229.8" width="17" height="31.40" fill="#000099"/>
<rect x="647" y="261.2" width="17" height="9.65" fill="#000000"/>
<line x1="664.5" y1="42.5" x2="664.5" y2="270.85" stroke="#555" stroke-width="1"/>
<line x1="661.00" y1="271.30" x2="664.5" y2="271.30" stroke="#222" stroke-width="1"/>
<line x1="661.00" y1="265.97" x2="664.5" y2="265.97" stroke="#222" stroke-width="1"/>
<line x1="657.50" y1="261.20" x2="664.5" y2="261.20" stroke="#222" stroke-width="1"/>
<line x1="661.00" y1="229.83" x2="664.5" y2="229.83" stroke="#222" stroke-width="1"/>
<line x1="661.00" y1="211.48" x2="664.5" y2="211.48" stroke="#222" stroke-width="1"/>
<line x1="661.00" y1="198.47" x2="664.5" y2="198.47" stroke="#222" stroke-width="1"/>
<line x1="661.00" y1="188.37" x2="664.5" y2="188.37" stroke="#222" stroke-width="1"/>
<line x1="661.00" y1="180.12" x2="664.5" y2="180.12" stroke="#222" stroke-width="1"/>
<line x1="661.00" y1="173.14" x2="664.5" y2="173.14" stroke="#222" stroke-width="1"/>
<line x1="661.00" y1="167.10" x2="664.5" y2="167.10" stroke="#222" stroke-width="1"/>
<line x1="661.00" y1="161.77" x2="664.5" y2="161.77" stroke="#222" stroke-width="1"/>
<line x1="657.50" y1="157.00" x2="664.5" y2="157.00" stroke="#222" stroke-width="1"/>
<line x1="661.00" y1="125.63" x2="664.5" y2="125.63" stroke="#222" stroke-width="1"/>
<line x1="661.00" y1="107.28" x2="664.5" y2="107.28" stroke="#222" stroke-width="1"/>
<line x1="661.00" y1="94.27" x2="664.5" y2="94.27" stroke="#222" stroke-width="1"/>
<line x1="661.00" y1="84.17" x2="664.5" y2="84.17" stroke="#222" stroke-width="1"/>
<line x1="661.00" y1="75.92" x2="664.5" y2="75.92" stroke="#222" stroke-width="1"/>
<line x1="661.00" y1="68.94" x2="664.5" y2="68.94" stroke="#222" stroke-width="1"/>
<line x1="661.00" y1="62.90" x2="664.5" y2="62.90" stroke="#222" stroke-width="1"/>
<line x1="661.00" y1="57.57" x2="664.5" y2="57.57" stroke="#222" stroke-width="1"/>
<line x1="657.50" y1="52.80" x2="664.5" y2="52.80" stroke="#222" stroke-width="1"/>
<text x="667.8" y="58.2" class="tl">10</text>
<text x="667.4" y="162.3" class="tl">1</text>
<text x="667.8" y="266.9" class="tl">10<tspan class="sup" dy="-4.5">-1</tspan></text>
<text x="390.5" y="47.10" text-anchor="end" class="tl">6</text>
<text x="390.5" y="68.90" text-anchor="end" class="tl">5</text>
<text x="390.5" y="90.70" text-anchor="end" class="tl">4</text>
<text x="390.5" y="112.50" text-anchor="end" class="tl">3</text>
<text x="390.5" y="134.30" text-anchor="end" class="tl">2</text>
<text x="390.5" y="156.10" text-anchor="end" class="tl">1</text>
<text x="390.5" y="177.90" text-anchor="end" class="tl">0</text>
<text x="390.5" y="199.70" text-anchor="end" class="tl">-1</text>
<text x="390.5" y="221.50" text-anchor="end" class="tl">-2</text>
<text x="390.5" y="243.30" text-anchor="end" class="tl">-3</text>
<text x="390.5" y="265.10" text-anchor="end" class="tl">-4</text>
<text x="409.90" y="283.6" text-anchor="middle" class="tl">-4</text>
<text x="441.70" y="283.6" text-anchor="middle" class="tl">-3</text>
<text x="473.50" y="283.6" text-anchor="middle" class="tl">-2</text>
<text x="505.30" y="283.6" text-anchor="middle" class="tl">-1</text>
<text x="537.10" y="283.6" text-anchor="middle" class="tl">0</text>
<text x="568.90" y="283.6" text-anchor="middle" class="tl">1</text>
<text x="600.70" y="283.6" text-anchor="middle" class="tl">2</text>
<text x="632.50" y="283.6" text-anchor="middle" class="tl">3</text>
<text x="471.40" y="309.4" class="at">log</text>
<text x="490.45" y="315.7" class="atsub">10</text>
<path d="M504.60,295.60 L500.70,295.60 L500.70,317.20 L504.60,317.20" fill="none" stroke="#111" stroke-width="1.3"/>
<text x="505.44" y="309.4" class="at">p</text>
<text x="513.07" y="304.4" class="atsub">2</text>
<text x="513.20" y="316.59999999999997" class="atsub2">T</text>
<text x="519.17" y="316.59999999999997" class="atsub2" letter-spacing="1.3">II</text>
<text x="528.10" y="309.4" class="at">/</text>
<text x="534.11" y="309.4" class="at">m</text>
<text x="545.87" y="306.2" class="atsub">2</text>
<text x="546.03" y="315.59999999999997" class="atsub">Z</text>
<path d="M553.20,295.60 L557.10,295.60 L557.10,317.20 L553.20,317.20" fill="none" stroke="#111" stroke-width="1.3"/>
<g transform="translate(363.8,202) rotate(-90)"><text x="-0.9" y="0" class="at">log</text><text x="17.65" y="6.3" class="atsub">10</text><path d="M33.20,-13.80 L29.60,-13.80 L29.60,8.40 L33.20,8.40" fill="none" stroke="#111" stroke-width="1.3"/><text x="33.64" y="0" class="at">p</text><text x="40.17" y="-4.8" class="atsub">2</text><text x="41.60" y="7.8" class="atsub2">T</text><text x="49.27" y="7.8" class="atsub2">IF</text><text x="60.20" y="0" class="at">/</text><text x="68.34" y="0" class="at">p</text><text x="75.77" y="-5.4" class="atsub">2</text><text x="76.00" y="7.8" class="atsub2">T</text><text x="81.97" y="7.8" class="atsub2" letter-spacing="1.3">II</text><path d="M87.60,-13.80 L91.20,-13.80 L91.20,8.60 L87.60,8.60" fill="none" stroke="#111" stroke-width="1.3"/></g>
<text x="43.25" y="14" class="tt">q</text>
<text x="53.2" y="14" class="tt">q</text>
<line x1="53.5" y1="4.6" x2="62.2" y2="4.6" stroke="#111" stroke-width="1.2"/>
<line x1="67" y1="10.9" x2="79.8" y2="10.9" stroke="#111" stroke-width="1.2"/>
<path d="M76.6,7.7 L80.3,10.9 L76.6,14.1" fill="none" stroke="#111" stroke-width="1.2"/>
<text x="85.95" y="14" class="tt">Z</text>
<text x="96.1" y="14" class="tt">g</text>
<text x="106.4" y="14" class="tt">g</text>
<text x="43.7" y="35.9" class="st">Vincia 2.0 + MadGraph 4.4.26</text>
<text x="187.4" y="57.7" class="sm">smooth</text>
<text x="233.8" y="57.7" class="sm2">(no EW Z)</text>
<text x="393.25" y="14" class="tt">q</text>
<text x="403.2" y="14" class="tt">q</text>
<line x1="403.5" y1="4.6" x2="412.2" y2="4.6" stroke="#111" stroke-width="1.2"/>
<line x1="417" y1="10.9" x2="429.8" y2="10.9" stroke="#111" stroke-width="1.2"/>
<path d="M426.6,7.7 L430.3,10.9 L426.6,14.1" fill="none" stroke="#111" stroke-width="1.2"/>
<text x="435.95" y="14" class="tt">Z</text>
<text x="446.1" y="14" class="tt">g</text>
<text x="456.4" y="14" class="tt">g</text>
<text x="393.7" y="35.9" class="st">Vincia 2.0 + MadGraph 4.4.26</text>
<text x="537.4" y="57.7" class="sm">smooth</text>
<text x="583.8" y="57.7" class="sm2">(no EW Z)</text>
<path d="M133.2,4.1 L129.3,10.5 L133.2,16.9" fill="none" stroke="#111" stroke-width="0.95"/>
<text x="138.5" y="14" class="tt">R</text>
<text x="149.0" y="20.9" class="sub">4</text>
<path d="M159.6,4.1 L163.7,10.5 L159.6,16.9" fill="none" stroke="#111" stroke-width="0.95"/>
<text x="476.8" y="14" class="tt">dev(R</text>
<text x="515.3" y="21" class="sub">4</text>
<text x="521.6" y="14" class="tt">)</text>
</svg>
</body></html>
